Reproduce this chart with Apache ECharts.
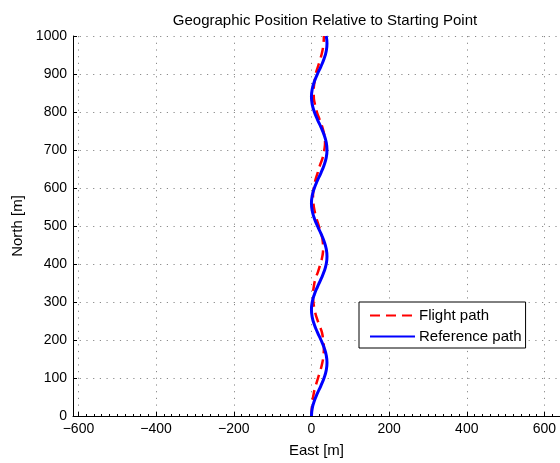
<!DOCTYPE html>
<html>
<head>
<meta charset="utf-8">
<script src="https://cdn.jsdelivr.net/npm/echarts@6/dist/echarts.min.js"></script>
<style>
  html, body { margin: 0; padding: 0; background: #fff; }
  #chart { width: 560px; height: 463px; }
</style>
</head>
<body>
<div id="chart"></div>
<script>
// North position samples [m]
const northPos = [0, 20, 40, 60, 80, 100, 120, 140, 160, 180, 200, 220, 240, 260, 280,
  300, 320, 340, 360, 380, 400, 420, 440, 460, 480, 500, 520, 540, 560,
  580, 600, 620, 640, 660, 680, 700, 720, 740, 760, 780, 800, 820, 840,
  860, 880, 900, 920, 940, 960, 980, 1000];

// Reference path, east offset [m]
const refEast = [0, 2, 7.5, 15.5, 24.5, 32.5, 38, 40, 38, 32.5, 24.5, 15.5, 7.5, 2, 0,
  2, 7.5, 15.5, 24.5, 32.5, 38, 40, 38, 32.5, 24.5, 15.5, 7.5, 2, 0,
  2, 7.5, 15.5, 24.5, 32.5, 38, 40, 38, 32.5, 24.5, 15.5, 7.5, 2, 0,
  2, 7.5, 15.5, 24.5, 32.5, 38, 40, 38];

// Flight path, east offset [m]
const flightEast = [0, 1, 3, 6, 11, 17, 23, 28, 31, 32, 30, 27, 20, 13, 8,
  5, 4, 6, 10, 17, 23, 28, 30, 29, 25, 19, 13, 8, 5,
  4, 6, 10, 16, 22, 29, 33, 35, 33, 28, 21, 14, 9, 6,
  6, 8, 11, 17, 23, 28, 31, 32];

// Tick positions
const xTicks = [-600, -400, -200, 0, 200, 400, 600];
const yTicks = [0, 100, 200, 300, 400, 500, 600, 700, 800, 900, 1000];

const xMinor = [];
for (let v = -600; v <= 640; v += 20) xMinor.push(v);

const FONT = 'Liberation Sans, Arial, Helvetica, sans-serif';
const fmtNum = v => (v < 0 ? '\u2212' + (-v) : String(v));
const dotted = { color: '#8a8a8a', width: 1, type: [1.2, 5.5] };

const chart = echarts.init(document.getElementById('chart'), null, { renderer: 'canvas' });

chart.setOption({
  backgroundColor: '#ffffff',
  animation: false,
  textStyle: { fontFamily: FONT },
  title: {
    text: 'Geographic Position Relative to Starting Point',
    left: 320,
    top: 8,
    textAlign: 'center',
    textStyle: { fontFamily: FONT, fontSize: 15, fontWeight: 'normal', color: '#000' }
  },
  legend: {
    orient: 'vertical',
    left: 359,
    top: 302,
    backgroundColor: '#fff',
    borderColor: '#000',
    borderWidth: 1,
    borderRadius: 0,
    padding: [6, 4, 4, 10],
    itemGap: 6,
    itemWidth: 45,
    itemHeight: 15,
    itemStyle: { opacity: 0 },
    textStyle: { fontFamily: FONT, fontSize: 15, color: '#000', padding: [0, 0, 0, -1] },
    data: ['Flight path', 'Reference path']
  },
  grid: { left: 73, right: 0, top: 36, bottom: 39, containLabel: false },
  xAxis: [{
    type: 'value',
    min: -614,
    max: 640,
    name: 'East [m]',
    nameLocation: 'middle',
    nameGap: 27,
    nameTextStyle: { fontFamily: FONT, fontSize: 15, color: '#000' },
    axisLine: { show: true, onZero: false, lineStyle: { color: '#000', width: 1 } },
    axisTick: { show: true, inside: true, length: 4, customValues: xTicks, lineStyle: { color: '#000' } },
    axisLabel: { show: true, customValues: xTicks, formatter: fmtNum, margin: 6,
      fontFamily: FONT, fontSize: 14, color: '#000' },
    splitLine: { show: true, lineStyle: dotted }
  }, {
    type: 'value',
    min: -614,
    max: 640,
    position: 'bottom',
    axisLine: { show: false },
    axisTick: { show: true, inside: true, length: 2, customValues: xMinor, lineStyle: { color: '#000' } },
    axisLabel: { show: false },
    splitLine: { show: false }
  }],
  yAxis: {
    type: 'value',
    min: 0,
    max: 1000,
    interval: 100,
    name: 'North [m]',
    nameLocation: 'middle',
    nameGap: 46,
    nameTextStyle: { fontFamily: FONT, fontSize: 15, color: '#000' },
    axisLine: { show: true, onZero: false, lineStyle: { color: '#000', width: 1 } },
    axisTick: { show: true, inside: true, length: 4, lineStyle: { color: '#000' } },
    axisLabel: { show: true, customValues: yTicks, formatter: v => String(v), margin: 6,
      fontFamily: FONT, fontSize: 14, color: '#000' },
    splitLine: { show: true, lineStyle: dotted }
  },
  series: [{
    name: 'Flight path',
    type: 'line',
    xAxisIndex: 0,
    data: northPos.map((n, i) => [flightEast[i], n]),
    showSymbol: false,
    symbol: 'none',
    smooth: true,
    lineStyle: { color: '#ff0000', width: 2.5, type: [10, 6] },
    itemStyle: { color: '#ff0000' },
    z: 2
  }, {
    name: 'Reference path',
    type: 'line',
    xAxisIndex: 0,
    data: northPos.map((n, i) => [refEast[i], n]),
    showSymbol: false,
    symbol: 'none',
    smooth: true,
    lineStyle: { color: '#0000ff', width: 3, type: 'solid' },
    itemStyle: { color: '#0000ff' },
    z: 3
  }]
});
</script>
</body>
</html>
